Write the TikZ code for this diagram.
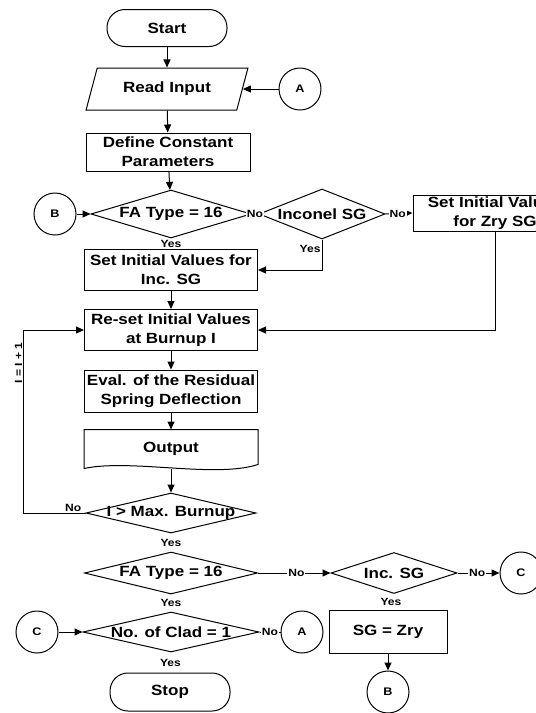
\documentclass[tikz,border=0pt]{standalone}
\usepackage{fontspec}
\newfontfamily\chartfont{Liberation Sans}[FakeStretch=1.15]
\usetikzlibrary{positioning, arrows.meta, shapes.geometric, calc}

\newcommand{\dtxt}[1]{\makebox[0pt]{#1}}

\begin{document}
\begin{tikzpicture}[x=1pt, y=-1pt, line width=1pt,
  base/.style={font=\chartfont\bfseries\fontsize{14.8}{19}\selectfont, inner sep=0pt, align=center},
  term/.style={base, draw, rounded corners=18pt, minimum width=120pt, minimum height=37pt},
  proc/.style={base, draw, minimum width=173pt, minimum height=41pt},
  io/.style={base, draw, trapezium, trapezium left angle=63, trapezium right angle=117, trapezium stretches=true, minimum width=162pt, minimum height=42pt},
  dec/.style={base, draw, diamond},
  conn/.style={draw, circle, minimum size=42pt, inner sep=0pt, font=\chartfont\bfseries\fontsize{11}{13}\selectfont},
  lbl/.style={font=\chartfont\bfseries\fontsize{10.5}{12}\selectfont, inner sep=1pt},
  arr/.style={-{Triangle[length=8pt, width=7pt]}}
]
\useasboundingbox (0,0) rectangle (536,713);
\clip (0,0) rectangle (536,713);

\node[term] (start) at (167,28) {Start};
\node[io] (read) at (167,89) {Read Input};
\node[conn] (ca1) at (300,89) {A};
\node[proc, minimum width=164pt, minimum height=38pt] (def) at (168,152) {Define Constant\\Parameters};

\node[dec, minimum width=160pt, minimum height=48pt] (fa1) at (171,214) {\dtxt{FA Type = 16}};
\node[conn] (cb1) at (55,214) {B};
\node[dec, minimum width=126pt, minimum height=50pt] (inc1) at (322,214) {\dtxt{Inconel SG}};
\node[proc, minimum width=164pt, minimum height=36pt] (zry) at (495,213) {Set Initial Values\\for Zry SG};

\node[proc] (setinc) at (171,270) {Set Initial Values for\\Inc. SG};
\node[proc] (reset) at (171,330) {Re-set Initial Values\\at Burnup I};
\node[proc, minimum height=42pt] (eval) at (171,391) {Eval. of the Residual\\Spring Deflection};
\node[base, minimum width=173pt, minimum height=38pt] (out) at (171,449) {Output};
\draw (out.north west) -- (out.north east) -- ($(out.south east)+(0,-4)$)
  .. controls ($(out.south)+(44,10)$) and ($(out.south)+(-40,-10)$) .. (out.south west) -- cycle;

\node[dec, minimum width=170pt, minimum height=40pt] (burn) at (171,513) {\dtxt{I > Max. Burnup}};
\node[dec, minimum width=173pt, minimum height=42pt] (fa2) at (171,573) {\dtxt{FA Type = 16}};
\node[dec, minimum width=126pt, minimum height=41pt] (inc2) at (394,573) {\dtxt{Inc. SG}};
\node[conn] (cc1) at (521,573) {C};

\node[dec, minimum width=176pt, minimum height=40pt] (clad) at (171,632) {\dtxt{No. of Clad = 1}};
\node[conn] (cc2) at (37,632) {C};
\node[conn] (ca2) at (302,632) {A};
\node[proc, minimum width=118pt, minimum height=43pt] (sgzry) at (388,632) {SG = Zry};
\node[conn] (cb2) at (388,692) {B};
\node[term, minimum height=38pt] (stop) at (170,692) {Stop};

% yes labels
\node[lbl] (y1) at ($(fa1.south)!0.5!(setinc.north)$) {Yes};
\node[lbl] (y2) at ($(burn.south)!0.5!(fa2.north)$) {Yes};
\node[lbl] (y3) at ($(fa2.south)!0.5!(clad.north)$) {Yes};
\node[lbl] (y4) at ($(inc2.south)!0.5!(sgzry.north)$) {Yes};
\node[lbl] (y5) at ($(clad.south)!0.5!(stop.north)$) {Yes};

\draw[arr] (start) -- (read);
\draw[arr] (ca1) -- (read.east);
\draw[arr] (read) -- (def);
\draw[arr] (def) -- (fa1);
\draw[arr] (cb1) -- (fa1.west);
\draw (fa1.east) -- node[lbl, fill=white]{No} (inc1.west);
\draw[arr] (inc1.east) -- node[lbl, fill=white, pos=0.45]{No} (zry.west);
\draw[arr] (inc1.south) -- node[lbl, left, pos=0.3]{Yes} (inc1.south |- setinc.east) -- (setinc.east);
\draw[arr] (zry.south) |- (reset.east);
\draw[arr] (setinc) -- (reset);
\draw[arr] (reset) -- (eval);
\draw[arr] (eval) -- (out);
\draw[arr] (out.south) -- (burn.north);
\draw[arr] (burn.west) -- node[lbl, above, pos=0.2]{No} ++(-62,0)
  |- node[lbl, rotate=90, anchor=south, pos=0.41]{I = I + 1} (reset.west);

\draw[arr] (fa2.east) -- node[lbl, fill=white, pos=0.53]{No} (inc2.west);
\draw[arr] (inc2.east) -- node[lbl, fill=white, pos=0.47]{No} (cc1.west);
\draw[arr] (cc2) -- (clad.west);
\draw (clad.east) -- node[lbl, fill=white]{No} (ca2.west);
\draw[arr] (sgzry) -- (cb2);
\end{tikzpicture}
\end{document}
